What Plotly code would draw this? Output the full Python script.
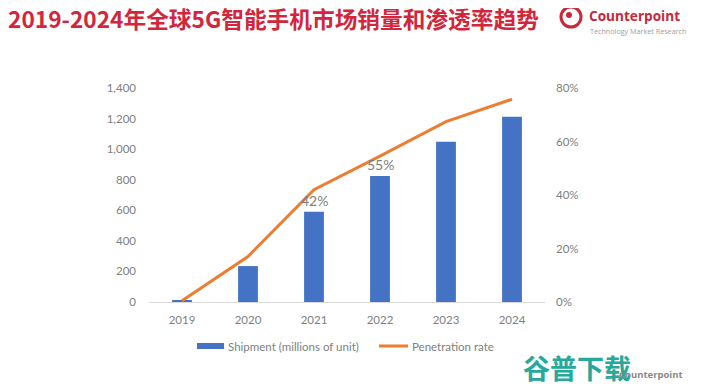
import plotly.graph_objects as go

years = ["2019", "2020", "2021", "2022", "2023", "2024"]
shipment = [12, 235, 590, 825, 1048, 1212]
penetration = [0.005, 0.17, 0.42, 0.545, 0.674, 0.758]
label_years = ["2021", "2022"]
label_texts = ["42%", "55%"]
label_heights = [590, 825]

left_ticks = [0, 200, 400, 600, 800, 1000, 1200, 1400]
left_ticktext = ["0", "200", "400", "600", "800", "1,000", "1,200", "1,400"]
right_ticks = [0, 0.2, 0.4, 0.6, 0.8]
right_ticktext = ["0%", "20%", "40%", "60%", "80%"]

# page has an 8px body margin; work in page pixel coords and convert
OFF = 8
W, H = 701 - OFF, 388 - OFF
L, R, T, B = 149, 545, 88, 302  # page coords of plot area


def px(x):
    return (x - L) / (R - L)


def py(y):
    return (B - y) / (B - T)


grey = "#808080"
blue = "#4472C4"
orange = "#ED7D31"
fig = go.Figure()
fig.add_trace(go.Bar(x=years, y=shipment, name="Shipment (millions of unit)",
                     marker=dict(color=blue, line=dict(width=0)), width=0.3,
                     showlegend=False))
fig.add_trace(go.Scatter(x=years, y=penetration, name="Penetration rate", yaxis="y2",
                         mode="lines", line=dict(color=orange, width=3),
                         showlegend=False))

annotations = []
for yr, t, h in zip(label_years, label_texts, label_heights):
    annotations.append(dict(xref="x", yref="y", x=years.index(yr), y=h, text=t,
                            showarrow=False, yanchor="bottom", yshift=1,
                            font=dict(family="Lato, sans-serif", size=14, color=grey)))

legend_font = dict(family="Lato, sans-serif", size=11.5, color=grey)
annotations += [
    dict(xref="paper", yref="paper", x=px(7), y=py(19), xanchor="left", yanchor="middle",
         text="<b>2019-2024年全球5G智能手机市场销量和渗透率趋势</b>", showarrow=False,
         borderpad=0,
         font=dict(family="Noto Sans CJK SC", size=22.7, color="#d1263b")),
    dict(xref="paper", yref="paper", x=px(588), y=py(16), xanchor="left", yanchor="middle",
         text="<b>Counterpoint</b>", showarrow=False, borderpad=0,
         font=dict(family="Open Sans", size=13.6, color="#c8283a")),
    dict(xref="paper", yref="paper", x=px(589), y=py(30.5), xanchor="left", yanchor="middle",
         text="Technology Market Research", showarrow=False, borderpad=0,
         font=dict(family="Open Sans", size=7.2, color="#a0a0a0")),
    dict(xref="paper", yref="paper", x=px(521), y=py(367), xanchor="left", yanchor="middle",
         text="<b>谷普下载</b>", showarrow=False,
         font=dict(family="Noto Sans CJK SC", size=27, color="#26a99a")),
    dict(xref="paper", yref="paper", x=px(617), y=py(374), xanchor="left", yanchor="middle",
         text="<b>Counterpoint</b>", showarrow=False,
         font=dict(family="Open Sans", size=9.5, color="#8a8a8a")),
    dict(xref="paper", yref="paper", x=px(226), y=py(346), xanchor="left", yanchor="middle",
         text="Shipment (millions of unit)", showarrow=False, font=legend_font),
    dict(xref="paper", yref="paper", x=px(410), y=py(346), xanchor="left", yanchor="middle",
         text="Penetration rate", showarrow=False, font=legend_font),
]

shapes = [
    dict(type="circle", xref="paper", yref="paper",
         x0=px(561), x1=px(581), y0=py(27), y1=py(7),
         line=dict(color="#c8283a", width=3)),
    dict(type="circle", xref="paper", yref="paper",
         x0=px(566), x1=px(572), y0=py(18), y1=py(12),
         fillcolor="#c8283a", line=dict(width=0)),
    dict(type="rect", xref="paper", yref="paper",
         x0=px(197), x1=px(224), y0=py(349), y1=py(343),
         fillcolor=blue, line=dict(width=0)),
    dict(type="line", xref="paper", yref="paper",
         x0=px(379), x1=px(408), y0=py(346), y1=py(346),
         line=dict(color=orange, width=3)),
]

fig.update_layout(
    width=W, height=H,
    margin=dict(l=L - OFF, r=W - (R - OFF), t=T - OFF, b=H - (B - OFF), pad=0),
    paper_bgcolor="white", plot_bgcolor="white",
    font=dict(family="Lato, sans-serif", size=11, color=grey),
    bargap=0.7,
    showlegend=False,
    xaxis=dict(type="category", showline=True, linecolor="#d9d9d9", linewidth=1,
               showgrid=False, ticks="", tickfont=dict(size=11.5, color=grey),
               ticklabelstandoff=7, range=[-0.5, 5.5], fixedrange=True),
    yaxis=dict(range=[0, 1400], tickvals=left_ticks, ticktext=left_ticktext,
               showgrid=False, zeroline=False, showline=False, ticks="",
               ticklabelstandoff=12, tickfont=dict(size=11.5, color=grey)),
    yaxis2=dict(range=[0, 0.8], tickvals=right_ticks, ticktext=right_ticktext,
                overlaying="y", side="right", showgrid=False, zeroline=False,
                showline=False, ticks="", ticklabelstandoff=10,
                tickfont=dict(size=11.5, color=grey)),
    annotations=annotations,
    shapes=shapes,
)

fig.write_html("out.html")
